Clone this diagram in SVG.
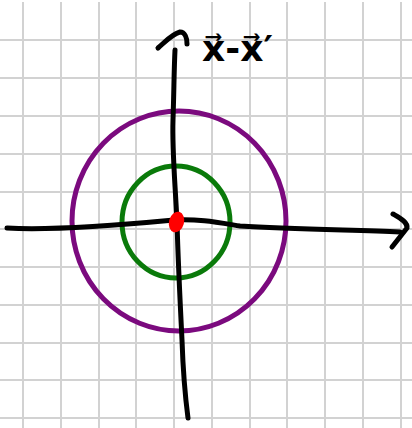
<svg xmlns="http://www.w3.org/2000/svg" width="412" height="428" viewBox="0 0 412 428">
<style>
.grid line{stroke:#d2d2d2;stroke-width:2}
.axis{fill:none;stroke:#000;stroke-width:5;stroke-linecap:round;stroke-linejoin:round}
.lbl{font-family:"DejaVu Sans",sans-serif;font-weight:bold;font-size:36px;fill:#000}
</style>
<rect width="412" height="428" fill="#fff"/>
<g class="grid">
<line x1="23" y1="2" x2="23" y2="428"/>
<line x1="61" y1="2" x2="61" y2="428"/>
<line x1="99" y1="2" x2="99" y2="428"/>
<line x1="136" y1="2" x2="136" y2="428"/>
<line x1="174" y1="2" x2="174" y2="428"/>
<line x1="212" y1="2" x2="212" y2="428"/>
<line x1="250" y1="2" x2="250" y2="428"/>
<line x1="287" y1="2" x2="287" y2="428"/>
<line x1="325" y1="2" x2="325" y2="428"/>
<line x1="363" y1="2" x2="363" y2="428"/>
<line x1="401" y1="2" x2="401" y2="428"/>
<line x1="0" y1="40" x2="412" y2="40"/>
<line x1="0" y1="78" x2="412" y2="78"/>
<line x1="0" y1="116" x2="412" y2="116"/>
<line x1="0" y1="154" x2="412" y2="154"/>
<line x1="0" y1="192" x2="412" y2="192"/>
<line x1="0" y1="229" x2="412" y2="229"/>
<line x1="0" y1="267" x2="412" y2="267"/>
<line x1="0" y1="305" x2="412" y2="305"/>
<line x1="0" y1="343" x2="412" y2="343"/>
<line x1="0" y1="380" x2="412" y2="380"/>
<line x1="0" y1="418" x2="412" y2="418"/>
</g>
<g id="outer-circle"><ellipse cx="179" cy="221" rx="107" ry="110" fill="none" stroke="#7b0a7e" stroke-width="5"/></g>
<g id="inner-circle"><ellipse cx="176" cy="222" rx="54" ry="56" fill="none" stroke="#0a7a0a" stroke-width="5"/></g>
<g id="axes">
<path class="axis" d="M7,228 C40,230 100,227 174,220 C200,219 215,222 240,226 C290,229 350,230 400,232"/>
<path class="axis" d="M393,214 C400,218 408,222 407,228 L392,247"/>
<path class="axis" d="M188,418 C185,395 183,370 182,340 C180,300 178,260 177,222 C175,180 172,150 173,120 C174,90 174,70 175,50"/>
<path class="axis" d="M158,48 C165,42 172,34 180,32 C185,32 187,38 187,44"/>
</g>
<g id="origin"><ellipse cx="176.5" cy="222" rx="7.5" ry="10.5" transform="rotate(15 176.5 222)" fill="#ff0000"/></g>
<g id="label"><text class="lbl" x="202" y="61">x⃗-x⃗′</text></g>
</svg>
